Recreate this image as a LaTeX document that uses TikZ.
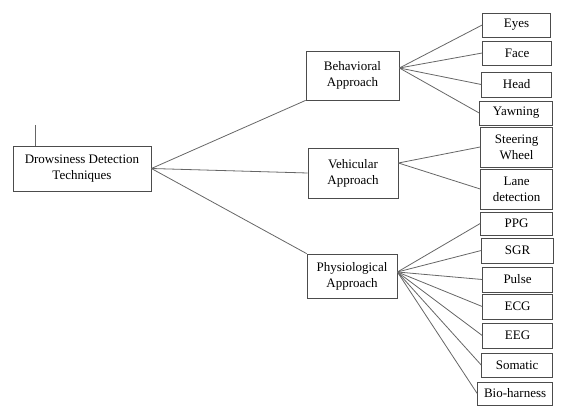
\documentclass[tikz,border=0pt]{standalone}
\usepackage{fontspec}
\setmainfont{Liberation Serif}

\begin{document}
\begin{tikzpicture}[x=1pt, y=-1pt, font=\fontsize{13}{16}\selectfont,
  box/.style={draw=black!70, line width=0.8pt, align=center, inner sep=0pt},
  leaf/.style={box, anchor=east, minimum width=71pt, minimum height=24pt},
  link/.style={draw=black!60, line width=0.8pt}]

\useasboundingbox (0,0) rectangle (563,406);

% root and the three approaches
\node[box, minimum width=138pt, minimum height=45pt] (root) at (82,168.5)
	{Drowsiness Detection\\Techniques};
\node[box, minimum width=93pt, minimum height=49pt] (behav) at (352.5,75.5)
	{Behavioral\\Approach};
\node[box, minimum width=90pt, minimum height=50pt] (vehic) at (353,173)
	{Vehicular\\Approach};
\node[box, minimum width=90pt, minimum height=44pt] (physio) at (352,276)
	{Physiological\\Approach};

\coordinate (tick) at (35,125);
\draw[link] (tick)--(tick |- root.north);

\draw[link] (root.east)--(behav.south west);
\draw[link] (root.east)--(vehic.west);
\draw[link] (root.east)--(physio.north west);

% behavioral
\node[leaf, minimum width=68pt] (eyes) at (551,25) {Eyes};
\node[leaf, minimum width=69pt] (face) at (552,53) {Face};
\node[leaf, minimum width=70pt, minimum height=25pt] (head) at (552,84.5) {Head};
\node[leaf, minimum width=73pt] (yawn) at (553,113) {Yawning};

\draw[link] ([yshift=7.5pt]behav.east)--(eyes.west);
\draw[link] ([yshift=7.5pt]behav.east)--(face.west);
\draw[link] ([yshift=7.5pt]behav.east)--(head.west);
\draw[link] ([yshift=7.5pt]behav.east)--(yawn.west);

% vehicular
\node[leaf, minimum width=72pt, minimum height=40pt] (steer) at (553,147)
	{Steering\\Wheel};
\node[leaf, minimum width=72pt, minimum height=40pt] (lane) at (553,189)
	{Lane\\detection};

\draw[link] ([yshift=10pt]vehic.east)--(steer.west);
\draw[link] ([yshift=10pt]vehic.east)--(lane.west);

% physiological
\node[leaf, minimum width=72pt, minimum height=23pt] (ppg) at (553,223.5) {PPG};
\node[leaf, minimum width=72pt, minimum height=25pt] (sgr) at (554,250.5) {SGR};
\node[leaf, minimum width=70pt, minimum height=25pt] (pulse) at (553,279.5) {Pulse};
\node[leaf, minimum width=70pt, minimum height=25pt] (ecg) at (553,306.5) {ECG};
\node[leaf, minimum width=70pt, minimum height=25pt] (eeg) at (553,335.5) {EEG};
\node[leaf, minimum width=71pt] (soma) at (553,365) {Somatic};
\node[leaf, minimum width=75pt, minimum height=23pt] (bio) at (553,393.5) {Bio-harness};

\draw[link] ([yshift=4pt]physio.east)--(ppg.west);
\draw[link] ([yshift=4pt]physio.east)--(sgr.west);
\draw[link] ([yshift=4pt]physio.east)--(pulse.west);
\draw[link] ([yshift=4pt]physio.east)--(ecg.west);
\draw[link] ([yshift=4pt]physio.east)--(eeg.west);
\draw[link] ([yshift=4pt]physio.east)--(soma.west);
\draw[link] ([yshift=4pt]physio.east)--(bio.west);

\end{tikzpicture}
\end{document}
